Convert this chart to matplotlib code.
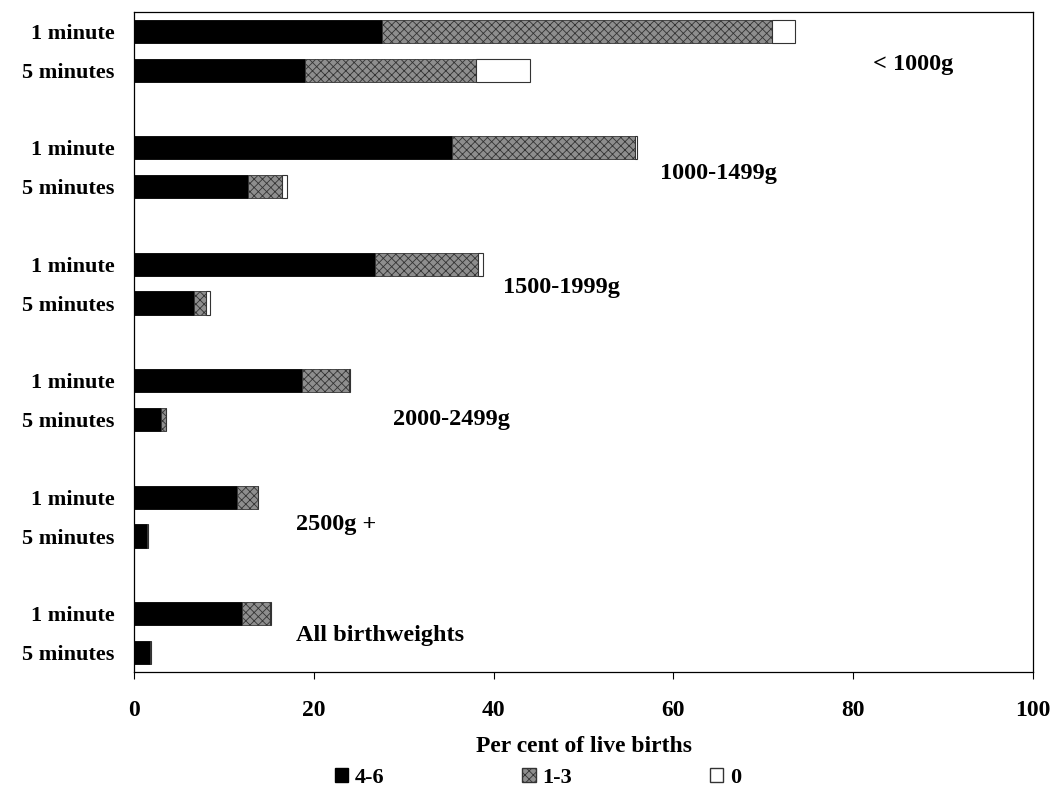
import numpy as np
import matplotlib
matplotlib.use("Agg")
import matplotlib.pyplot as plt
from matplotlib.patches import Patch

plt.rcParams['font.family'] = ['Liberation Serif', 'DejaVu Serif']
plt.rcParams['font.weight'] = 'bold'
plt.rcParams['hatch.linewidth'] = 0.6

# Data (per cent of live births), top to bottom
groups = ['< 1000g', '1000-1499g', '1500-1999g', '2000-2499g', '2500g +', 'All birthweights']
row_labels = ['1 minute', '5 minutes'] * 6
score_4_6 = [27.6, 19.0, 35.4, 12.7, 26.8, 6.7, 18.7, 3.0, 11.5, 1.4, 12.0, 1.8]
score_1_3 = [43.4, 19.0, 20.3, 3.8, 11.5, 1.3, 5.2, 0.6, 2.3, 0.1, 3.1, 0.1]
score_0 = [2.5, 6.0, 0.3, 0.5, 0.5, 0.5, 0.1, 0.0, 0.0, 0.0, 0.1, 0.0]

# group label anchor positions (x in %, y in row units)
label_x = [82.2, 58.5, 41.0, 28.8, 18.0, 18.0]
label_y = [0.85, 3.65, 6.6, 10.0, 12.7, 15.55]

ypos = np.array([3 * g + k for g in range(6) for k in range(2)])
a = np.array(score_4_6)
b = np.array(score_1_3)
c = np.array(score_0)

fig = plt.figure(figsize=(10.53, 7.98), dpi=100)
ax = fig.add_axes([0.1273, 0.158, 0.8537, 0.827])

h = 0.6
ax.barh(ypos, a, height=h, color='black', edgecolor='black', linewidth=0.6)
ax.barh(ypos, b, left=a, height=h, color='#8e8e8e', edgecolor='#333333',
        hatch='xxxx', linewidth=0.6)
ax.barh(ypos, c, left=a + b, height=h, color='white', edgecolor='#333333', linewidth=0.8)

for g, name in enumerate(groups):
    ax.text(label_x[g], label_y[g], name, fontsize=17.5, fontweight='bold',
            va='center', ha='left')

ax.set_xlim(0, 100)
ax.set_ylim(16.5, -0.5)
ax.set_xticks(np.arange(0, 101, 20))
ax.set_yticks(ypos)
ax.set_yticklabels(row_labels, fontsize=16)
ax.tick_params(axis='y', length=0, pad=14)
ax.tick_params(axis='x', direction='out', length=5, labelsize=17, pad=15)
ax.set_xlabel('Per cent of live births', fontsize=17, fontweight='bold', labelpad=11)
for s in ax.spines.values():
    s.set_linewidth(0.9)

handles = [Patch(facecolor='black', edgecolor='black', label='4-6'),
           Patch(facecolor='#8e8e8e', edgecolor='#333333', hatch='xxxx', label='1-3'),
           Patch(facecolor='white', edgecolor='#333333', label='0')]
fig.legend(handles=handles, loc='center', bbox_to_anchor=(0.511, 1 - 778 / 798), ncol=3,
           frameon=False, fontsize=16, handlelength=0.6, handleheight=0.6,
           handletextpad=0.3, columnspacing=6.2)

fig.savefig('out.png', dpi=100)
